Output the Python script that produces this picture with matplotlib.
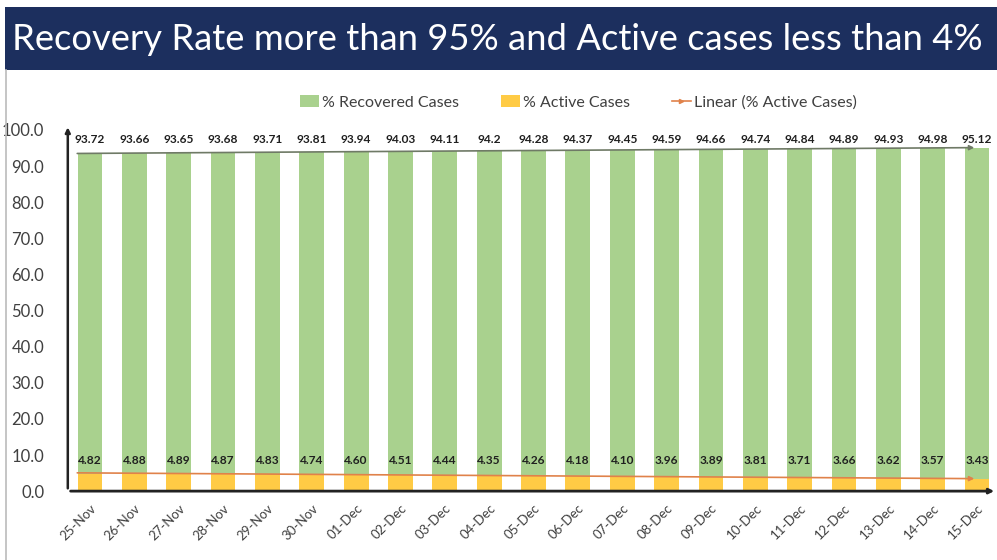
import numpy as np
import matplotlib
matplotlib.use('Agg')
import matplotlib.pyplot as plt
from matplotlib.lines import Line2D
from matplotlib.patches import Patch, Rectangle

# data
dates = ['25-Nov', '26-Nov', '27-Nov', '28-Nov', '29-Nov', '30-Nov', '01-Dec', '02-Dec', '03-Dec',
         '04-Dec', '05-Dec', '06-Dec', '07-Dec', '08-Dec', '09-Dec', '10-Dec', '11-Dec', '12-Dec',
         '13-Dec', '14-Dec', '15-Dec']
recovered = [93.72, 93.66, 93.65, 93.68, 93.71, 93.81, 93.94, 94.03, 94.11, 94.2, 94.28, 94.37,
             94.45, 94.59, 94.66, 94.74, 94.84, 94.89, 94.93, 94.98, 95.12]
active = [4.82, 4.88, 4.89, 4.87, 4.83, 4.74, 4.60, 4.51, 4.44, 4.35, 4.26, 4.18, 4.10, 3.96,
          3.89, 3.81, 3.71, 3.66, 3.62, 3.57, 3.43]
recovered_labels = ['93.72', '93.66', '93.65', '93.68', '93.71', '93.81', '93.94', '94.03', '94.11',
                    '94.2', '94.28', '94.37', '94.45', '94.59', '94.66', '94.74', '94.84', '94.89',
                    '94.93', '94.98', '95.12']
yticks = [0, 10, 20, 30, 40, 50, 60, 70, 80, 90, 100]

GREEN = '#a9d18e'
GOLD = '#ffcb45'
NAVY = '#1c2f5e'
TREND = '#e0824a'

plt.rcParams['font.family'] = ['Lato', 'DejaVu Sans']

fig = plt.figure(figsize=(9.97, 5.6), dpi=100)

# title banner
fig.patches.append(Rectangle((0.005, 0.875), 0.995, 0.112, transform=fig.transFigure,
                             facecolor=NAVY, edgecolor='none'))
fig.text(0.012, 0.929, 'Recovery Rate more than 95% and Active cases less than 4%',
         color='white', fontsize=26.2, ha='left', va='center')
# thin frame line on the left
fig.lines.append(Line2D([0.006, 0.006], [0.0, 0.875], transform=fig.transFigure,
                        color='#bbbbbb', lw=1.2))

ax = fig.add_axes([0.068, 0.123, 0.932, 0.645])
x = np.arange(len(dates))
ax.bar(x, recovered, width=0.56, color=GREEN, zorder=2)
ax.bar(x, active, width=0.56, color=GOLD, zorder=3)

# linear trendlines
for series, col in [(recovered, '#6f7a66'), (active, TREND)]:
    k, b = np.polyfit(x, series, 1)
    xs = np.array([-0.35, x[-1]])
    ax.annotate('', xy=(xs[1], k * xs[1] + b), xytext=(xs[0], k * xs[0] + b),
                arrowprops=dict(arrowstyle='-|>', color=col, lw=1.2, mutation_scale=7),
                zorder=4)

for i in range(len(dates)):
    ax.text(x[i], 97.3, recovered_labels[i], ha='center', va='center', fontsize=8.6,
            fontweight='bold', color='#1f1f1f')
    ax.text(x[i], 8.6, '%.2f' % active[i], ha='center', va='center', fontsize=8.6,
            fontweight='bold', color='#1f1f1f')

ax.set_xlim(-0.5, 20.45)
ax.set_ylim(0, 100)
for s in ax.spines.values():
    s.set_visible(False)
# axis lines with arrow heads
ax.annotate('', xy=(-0.5, 101.5), xytext=(-0.5, 0), xycoords='data',
            arrowprops=dict(arrowstyle='-|>', color='#222222', lw=1.8, mutation_scale=7),
            annotation_clip=False)
ax.annotate('', xy=(20.45, 0), xytext=(-0.5, 0),
            arrowprops=dict(arrowstyle='-|>', color='#222222', lw=2.0, mutation_scale=7),
            annotation_clip=False)

ax.set_yticks(yticks)
ax.set_yticklabels(['%.1f' % v for v in yticks], fontsize=12, color='#404040')
ax.tick_params(axis='y', length=0, pad=17)
ax.set_xticks(x)
ax.set_xticklabels(dates, rotation=45, ha='right', rotation_mode='anchor', fontsize=9.5,
                   color='#404040')
ax.tick_params(axis='x', length=0, pad=8)

handles = [Patch(facecolor=GREEN, label='% Recovered Cases'),
           Patch(facecolor=GOLD, label='% Active Cases'),
           Line2D([0], [0], color=TREND, lw=1.2, marker='>', markevery=[1],
                  markersize=3, label='Linear (% Active Cases)')]
fig.legend(handles=handles, loc='center', bbox_to_anchor=(0.58, 0.817), ncol=3, frameon=False,
           fontsize=11.5, handlelength=1.2, handletextpad=0.2, columnspacing=2.6,
           labelcolor='#404040')

fig.savefig('out.png', dpi=100)
